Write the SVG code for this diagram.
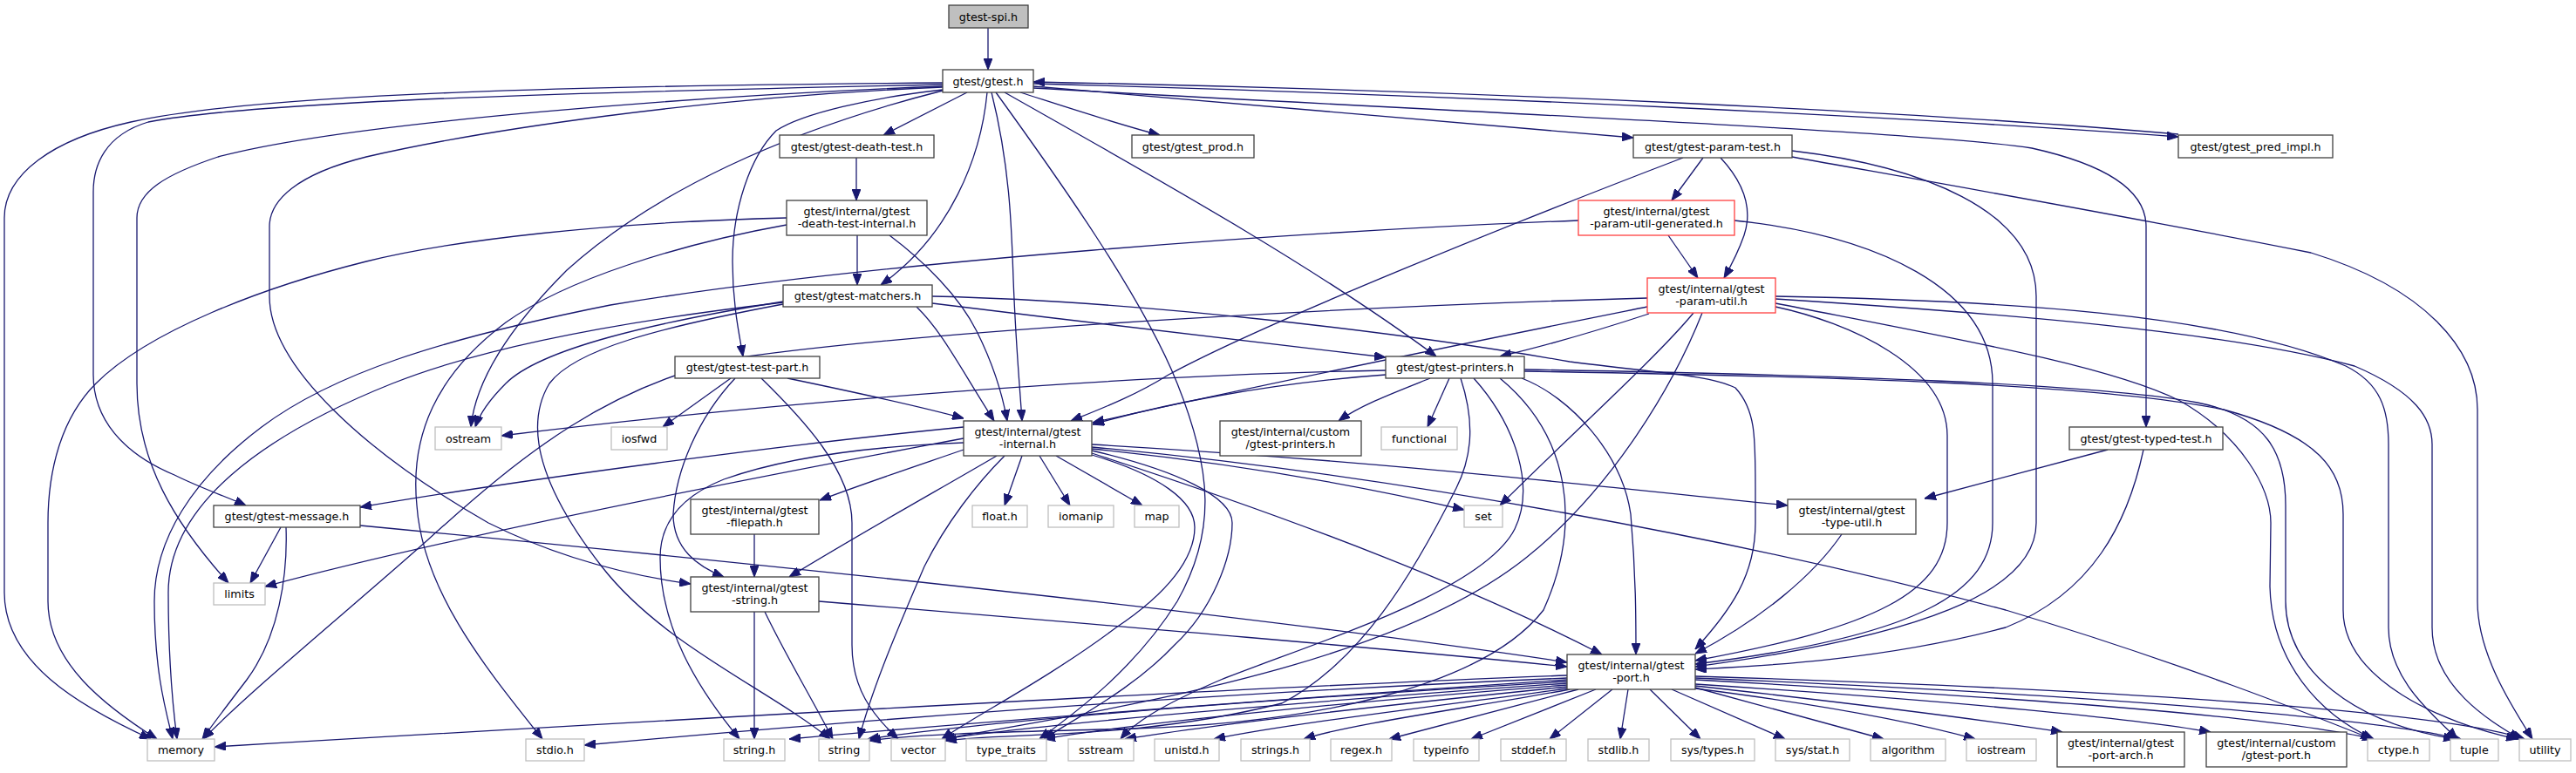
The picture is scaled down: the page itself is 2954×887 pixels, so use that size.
<svg xmlns="http://www.w3.org/2000/svg" width="2954" height="887" viewBox="0 0 2954 887">
<style>
.n rect{fill:#fff;stroke:#404040;stroke-width:1.3}
.g rect{fill:#fff;stroke:#bfbfbf;stroke-width:1.3}
.r rect{fill:#fff;stroke:#ff4040;stroke-width:1.3}
.root rect{fill:#bfbfbf;stroke:#404040;stroke-width:1.3}
text{font-family:"DejaVu Sans","Liberation Sans",sans-serif;font-size:12.7px;fill:#000;text-anchor:middle}
#edges path{fill:none;stroke:#191970;stroke-width:1.3;marker-end:url(#ah)}
</style>
<defs>
<marker id="ah" markerUnits="userSpaceOnUse" markerWidth="13" markerHeight="10" refX="13" refY="5" orient="auto"><path d="M0,0 L13,5 L0,10 z" fill="#191970" stroke="#191970" stroke-width="1"/></marker>
</defs>
<rect width="2954" height="887" fill="#fff"/>
<g id="edges">
<path d="M1133,32 V80"/>
<path d="M1109,106 C1085,118 1050,136 1013,155"/>
<path d="M1170,106 C1220,122 1280,142 1330,155"/>
<path d="M1185,99 C1450,120 1700,143 1873,158"/>
<path d="M1185,96 C1700,110 2200,135 2498,157"/>
<path d="M2498,154 C2200,128 1700,104 1185,94"/>
<path d="M1132,106 C1125,180 1090,270 1010,327"/>
<path d="M1137,106 C1158,190 1160,260 1162,320 C1165,400 1170,450 1172,483"/>
<path d="M1142,106 C1210,200 1310,340 1350,440 C1390,540 1395,610 1350,690 C1300,770 1230,820 1192,848"/>
<path d="M1152,106 C1300,190 1500,300 1647,409"/>
<path d="M1185,101 C1600,125 2200,150 2330,170 C2420,190 2461,220 2461,260 L2461,490"/>
<path d="M1081,103 C1000,112 920,130 890,150 C860,180 840,240 840,300 C840,350 848,385 852,409"/>
<path d="M1081,104 C900,150 750,220 650,310 C580,380 545,440 540,490"/>
<path d="M1081,100 C800,112 550,150 420,180 C340,200 309,230 309,260 L309,340 C309,420 420,520 560,600 C640,640 720,660 792,670"/>
<path d="M1081,99 C800,110 400,140 250,180 C190,200 157,220 157,250 L157,440 C157,530 200,600 262,669"/>
<path d="M1081,97 C700,105 300,115 170,140 C120,155 107,190 107,220 L107,430 C107,480 140,520 200,545 C230,560 260,570 282,580"/>
<path d="M1081,95 C700,98 300,106 150,140 C60,160 5,200 5,250 L5,680 C5,760 90,810 173,848"/>
<path d="M982,181 V230"/>
<path d="M983,270 V327"/>
<path d="M1020,270 C1060,300 1100,340 1120,380 C1140,420 1150,455 1155,483"/>
<path d="M902,250 C700,255 520,275 420,300 C300,330 170,380 110,440 C70,480 55,540 55,600 L55,690 C55,760 120,810 180,848"/>
<path d="M902,258 C780,280 650,320 580,370 C500,430 470,500 478,580 C485,680 560,770 622,848"/>
<path d="M898,347 C700,370 550,400 450,440 C300,500 193,580 193,680 C193,760 198,810 203,848"/>
<path d="M1810,253 C1500,265 1000,300 700,350 C500,390 380,430 300,490 C220,550 177,620 177,690 C177,770 190,815 198,848"/>
<path d="M898,346 C750,370 620,400 580,440 C560,460 550,475 545,490"/>
<path d="M898,349 C760,375 660,400 630,440 C600,490 620,560 690,650 C760,740 880,790 952,848"/>
<path d="M1069,348 C1250,370 1450,395 1589,410"/>
<path d="M1069,340 C1300,345 1600,380 1800,415 C1900,428 1960,430 1990,445 C2013,470 2013,500 2013,560 L2013,600 C2013,660 1985,700 1944,745"/>
<path d="M1051,352 C1080,380 1100,420 1140,483"/>
<path d="M322,605 L287,669"/>
<path d="M328,605 C330,660 320,730 283,780 C260,810 245,830 232,848"/>
<path d="M413,603 C800,640 1400,700 1797,760"/>
<path d="M1953,181 L1917,230"/>
<path d="M1973,181 C2000,210 2010,240 2000,270 C1993,290 1985,305 1977,319"/>
<path d="M1930,181 C1750,250 1450,370 1340,430 C1300,455 1260,470 1228,483"/>
<path d="M2055,173 C2200,190 2335,240 2335,340 L2335,600 C2335,680 2200,730 1944,765"/>
<path d="M2055,180 C2250,215 2450,250 2650,290 C2780,330 2841,400 2841,470 L2841,690 C2841,750 2880,810 2904,848"/>
<path d="M1913,270 L1947,319"/>
<path d="M1989,253 C2150,270 2285,330 2285,440 L2285,600 C2285,680 2200,730 1944,762"/>
<path d="M1889,342 C1600,350 1100,375 850,410 C700,440 600,520 490,620 C400,700 290,790 233,848"/>
<path d="M1889,352 C1700,390 1450,440 1253,485"/>
<path d="M1891,360 C1830,380 1780,395 1720,409"/>
<path d="M1942,359 C1900,410 1800,500 1720,580"/>
<path d="M1952,359 C1920,440 1850,560 1750,640 C1600,760 1300,810 1080,848"/>
<path d="M2036,352 C2120,370 2233,420 2233,500 L2233,600 C2233,680 2150,720 1944,758"/>
<path d="M2036,340 C2300,345 2550,360 2690,420 C2730,440 2739,470 2739,510 L2739,720 C2739,780 2790,820 2818,848"/>
<path d="M2036,343 C2300,360 2550,380 2700,420 C2770,450 2789,480 2789,510 L2789,720 C2789,790 2860,830 2890,848"/>
<path d="M2036,348 C2250,390 2420,420 2500,460 C2570,500 2604,560 2604,600 L2603,673 C2605,760 2660,820 2722,848"/>
<path d="M1640,434 C1600,450 1560,465 1535,483"/>
<path d="M1662,434 L1637,490"/>
<path d="M1589,425 C1300,430 900,460 575,500"/>
<path d="M1589,430 C1450,440 1330,465 1253,487"/>
<path d="M1745,434 C1800,455 1860,520 1870,590 C1876,660 1876,710 1876,751"/>
<path d="M1748,424 C2100,430 2400,440 2520,462 C2600,478 2621,520 2621,580 L2621,690 C2621,770 2700,830 2815,848"/>
<path d="M1748,426 C2100,432 2400,440 2550,470 C2660,500 2687,540 2687,590 L2687,700 C2687,780 2800,830 2887,848"/>
<path d="M1690,434 C1740,490 1760,560 1737,607 C1700,680 1500,740 1400,780 C1330,810 1300,830 1285,848"/>
<path d="M1675,434 C1690,480 1690,520 1670,560 C1620,660 1560,760 1470,807 C1300,850 1150,840 1084,850"/>
<path d="M1720,434 C1800,500 1815,600 1770,700 C1700,790 1500,830 1300,836 C1150,840 1050,842 997,850"/>
<path d="M865,702 V848"/>
<path d="M877,702 C900,750 930,800 955,848"/>
<path d="M939,690 C1300,720 1600,745 1797,765"/>
<path d="M865,613 V662"/>
<path d="M838,434 L760,490"/>
<path d="M843,434 C800,480 775,540 772,590 C772,630 800,650 830,662"/>
<path d="M903,434 C980,450 1050,465 1105,480"/>
<path d="M873,434 C920,480 977,540 977,600 L977,740 C977,790 1000,820 1030,848"/>
<path d="M1105,490 C900,510 600,550 413,582"/>
<path d="M1105,516 C1050,535 990,555 940,574"/>
<path d="M1143,523 C1080,560 990,610 905,662"/>
<path d="M1105,503 C800,560 500,620 304,673"/>
<path d="M1105,508 C1000,512 900,525 830,550 C780,570 757,600 757,640 C757,720 800,790 848,848"/>
<path d="M1152,523 C1120,555 1085,600 1060,650 C1030,720 1000,790 985,848"/>
<path d="M1172,523 L1152,580"/>
<path d="M1192,523 L1227,580"/>
<path d="M1211,523 L1310,580"/>
<path d="M1252,515 C1400,530 1550,555 1679,585"/>
<path d="M1252,520 C1500,600 1700,680 1837,751"/>
<path d="M1252,510 C1600,530 1850,560 2050,580"/>
<path d="M1252,513 C1600,545 2000,620 2300,700 C2500,760 2650,820 2720,848"/>
<path d="M1252,522 C1330,545 1370,575 1370,605 C1370,640 1340,680 1280,720 C1200,780 1120,820 1080,848"/>
<path d="M1252,517 C1350,540 1413,570 1413,600 C1413,640 1390,700 1347,740 C1300,790 1240,820 1197,848"/>
<path d="M2417,516 L2207,572"/>
<path d="M2458,516 C2440,600 2400,680 2300,720 C2150,760 2000,765 1944,768"/>
<path d="M2112,613 C2080,660 2020,710 1944,750"/>
<path d="M1797,775 C1400,790 700,830 246,857"/>
<path d="M1797,778 C1400,795 1000,825 670,855"/>
<path d="M1797,780 C1500,800 1100,830 905,848"/>
<path d="M1797,782 C1500,800 1150,825 995,848"/>
<path d="M1797,784 C1500,805 1200,830 1082,848"/>
<path d="M1797,786 C1550,805 1300,830 1197,848"/>
<path d="M1797,788 C1600,808 1400,830 1290,848"/>
<path d="M1797,790 C1650,810 1480,830 1392,848"/>
<path d="M1800,791 C1700,810 1550,830 1495,848"/>
<path d="M1810,791 L1593,848"/>
<path d="M1830,791 L1687,848"/>
<path d="M1849,791 L1777,848"/>
<path d="M1867,791 L1858,848"/>
<path d="M1892,791 L1950,848"/>
<path d="M1917,791 L2047,848"/>
<path d="M1944,789 L2160,848"/>
<path d="M1944,790 C2100,810 2200,830 2265,848"/>
<path d="M1944,787 C2150,810 2300,830 2365,840"/>
<path d="M1944,785 C2250,805 2450,825 2535,840"/>
<path d="M1944,780 C2300,800 2600,820 2722,848"/>
<path d="M1944,778 C2350,795 2700,820 2822,848"/>
<path d="M1944,776 C2400,790 2800,815 2895,848"/>
</g>
<g id="n_spi" class="root"><rect x="1088" y="6" width="91" height="26"/><text x="1133.5" y="23.5">gtest-spi.h</text></g>
<g id="n_gtest" class="n"><rect x="1081" y="80" width="104" height="26"/><text x="1133" y="97.5">gtest/gtest.h</text></g>
<g id="n_death" class="n"><rect x="894" y="155" width="177" height="26"/><text x="982.5" y="172.5">gtest/gtest-death-test.h</text></g>
<g id="n_prod" class="n"><rect x="1298" y="155" width="140" height="26"/><text x="1368" y="172.5">gtest/gtest_prod.h</text></g>
<g id="n_paramtest" class="n"><rect x="1873" y="155" width="182" height="26"/><text x="1964" y="172.5">gtest/gtest-param-test.h</text></g>
<g id="n_pred" class="n"><rect x="2498" y="155" width="177" height="26"/><text x="2586.5" y="172.5">gtest/gtest_pred_impl.h</text></g>
<g id="n_dti" class="n"><rect x="902" y="230" width="161" height="40"/><text x="982.5" y="246.5">gtest/internal/gtest</text><text x="982.5" y="260.5">-death-test-internal.h</text></g>
<g id="n_gen" class="r"><rect x="1810" y="230" width="179" height="40"/><text x="1899.5" y="246.5">gtest/internal/gtest</text><text x="1899.5" y="260.5">-param-util-generated.h</text></g>
<g id="n_matchers" class="n"><rect x="898" y="327" width="171" height="25"/><text x="983.5" y="344">gtest/gtest-matchers.h</text></g>
<g id="n_putil" class="r"><rect x="1889" y="319" width="147" height="40"/><text x="1962.5" y="335.5">gtest/internal/gtest</text><text x="1962.5" y="349.5">-param-util.h</text></g>
<g id="n_printers" class="n"><rect x="1589" y="409" width="159" height="25"/><text x="1668.5" y="426">gtest/gtest-printers.h</text></g>
<g id="n_testpart" class="n"><rect x="774" y="409" width="166" height="25"/><text x="857" y="426">gtest/gtest-test-part.h</text></g>
<g id="n_ostream" class="g"><rect x="499" y="490" width="76" height="26"/><text x="537" y="507.5">ostream</text></g>
<g id="n_iosfwd" class="g"><rect x="701" y="490" width="64" height="26"/><text x="733" y="507.5">iosfwd</text></g>
<g id="n_internal" class="n"><rect x="1105" y="483" width="147" height="40"/><text x="1178.5" y="499.5">gtest/internal/gtest</text><text x="1178.5" y="513.5">-internal.h</text></g>
<g id="n_custprinters" class="n"><rect x="1399" y="483" width="162" height="40"/><text x="1480" y="499.5">gtest/internal/custom</text><text x="1480" y="513.5">/gtest-printers.h</text></g>
<g id="n_functional" class="g"><rect x="1584" y="490" width="87" height="26"/><text x="1627.5" y="507.5">functional</text></g>
<g id="n_float" class="g"><rect x="1115" y="580" width="63" height="25"/><text x="1146.5" y="597">float.h</text></g>
<g id="n_iomanip" class="g"><rect x="1202" y="580" width="75" height="25"/><text x="1239.5" y="597">iomanip</text></g>
<g id="n_map" class="g"><rect x="1301" y="580" width="51" height="25"/><text x="1326.5" y="597">map</text></g>
<g id="n_set" class="g"><rect x="1679" y="580" width="44" height="25"/><text x="1701" y="597">set</text></g>
<g id="n_typed" class="n"><rect x="2373" y="490" width="176" height="26"/><text x="2461" y="507.5">gtest/gtest-typed-test.h</text></g>
<g id="n_typeutil" class="n"><rect x="2050" y="573" width="147" height="40"/><text x="2123.5" y="589.5">gtest/internal/gtest</text><text x="2123.5" y="603.5">-type-util.h</text></g>
<g id="n_filepath" class="n"><rect x="792" y="573" width="147" height="40"/><text x="865.5" y="589.5">gtest/internal/gtest</text><text x="865.5" y="603.5">-filepath.h</text></g>
<g id="n_message" class="n"><rect x="245" y="580" width="168" height="25"/><text x="329" y="597">gtest/gtest-message.h</text></g>
<g id="n_limits" class="g"><rect x="245" y="669" width="59" height="25"/><text x="274.5" y="686">limits</text></g>
<g id="n_gstring" class="n"><rect x="792" y="662" width="147" height="40"/><text x="865.5" y="678.5">gtest/internal/gtest</text><text x="865.5" y="692.5">-string.h</text></g>
<g id="n_port" class="n"><rect x="1797" y="751" width="147" height="40"/><text x="1870.5" y="767.5">gtest/internal/gtest</text><text x="1870.5" y="781.5">-port.h</text></g>
<g id="n_memory" class="g"><rect x="169" y="848" width="77" height="25"/><text x="207.5" y="865">memory</text></g>
<g id="n_stdio" class="g"><rect x="603" y="848" width="67" height="25"/><text x="636.5" y="865">stdio.h</text></g>
<g id="n_stringh" class="g"><rect x="830" y="848" width="70" height="25"/><text x="865" y="865">string.h</text></g>
<g id="n_string" class="g"><rect x="939" y="848" width="58" height="25"/><text x="968" y="865">string</text></g>
<g id="n_vector" class="g"><rect x="1022" y="848" width="62" height="25"/><text x="1053" y="865">vector</text></g>
<g id="n_typetraits" class="g"><rect x="1108" y="848" width="92" height="25"/><text x="1154" y="865">type_traits</text></g>
<g id="n_sstream" class="g"><rect x="1225" y="848" width="75" height="25"/><text x="1262.5" y="865">sstream</text></g>
<g id="n_unistd" class="g"><rect x="1324" y="848" width="74" height="25"/><text x="1361" y="865">unistd.h</text></g>
<g id="n_strings" class="g"><rect x="1423" y="848" width="79" height="25"/><text x="1462.5" y="865">strings.h</text></g>
<g id="n_regex" class="g"><rect x="1526" y="848" width="70" height="25"/><text x="1561" y="865">regex.h</text></g>
<g id="n_typeinfo" class="g"><rect x="1621" y="848" width="75" height="25"/><text x="1658.5" y="865">typeinfo</text></g>
<g id="n_stddef" class="g"><rect x="1721" y="848" width="75" height="25"/><text x="1758.5" y="865">stddef.h</text></g>
<g id="n_stdlib" class="g"><rect x="1821" y="848" width="70" height="25"/><text x="1856" y="865">stdlib.h</text></g>
<g id="n_systypes" class="g"><rect x="1916" y="848" width="96" height="25"/><text x="1964" y="865">sys/types.h</text></g>
<g id="n_sysstat" class="g"><rect x="2036" y="848" width="85" height="25"/><text x="2078.5" y="865">sys/stat.h</text></g>
<g id="n_algorithm" class="g"><rect x="2145" y="848" width="86" height="25"/><text x="2188" y="865">algorithm</text></g>
<g id="n_iostream" class="g"><rect x="2255" y="848" width="80" height="25"/><text x="2295" y="865">iostream</text></g>
<g id="n_portarch" class="n"><rect x="2359" y="840" width="146" height="40"/><text x="2432" y="856.5">gtest/internal/gtest</text><text x="2432" y="870.5">-port-arch.h</text></g>
<g id="n_custport" class="n"><rect x="2530" y="840" width="161" height="40"/><text x="2610.5" y="856.5">gtest/internal/custom</text><text x="2610.5" y="870.5">/gtest-port.h</text></g>
<g id="n_ctype" class="g"><rect x="2715" y="848" width="71" height="25"/><text x="2750.5" y="865">ctype.h</text></g>
<g id="n_tuple" class="g"><rect x="2810" y="848" width="55" height="25"/><text x="2837.5" y="865">tuple</text></g>
<g id="n_utility" class="g"><rect x="2889" y="848" width="59" height="25"/><text x="2918.5" y="865">utility</text></g>
</svg>
